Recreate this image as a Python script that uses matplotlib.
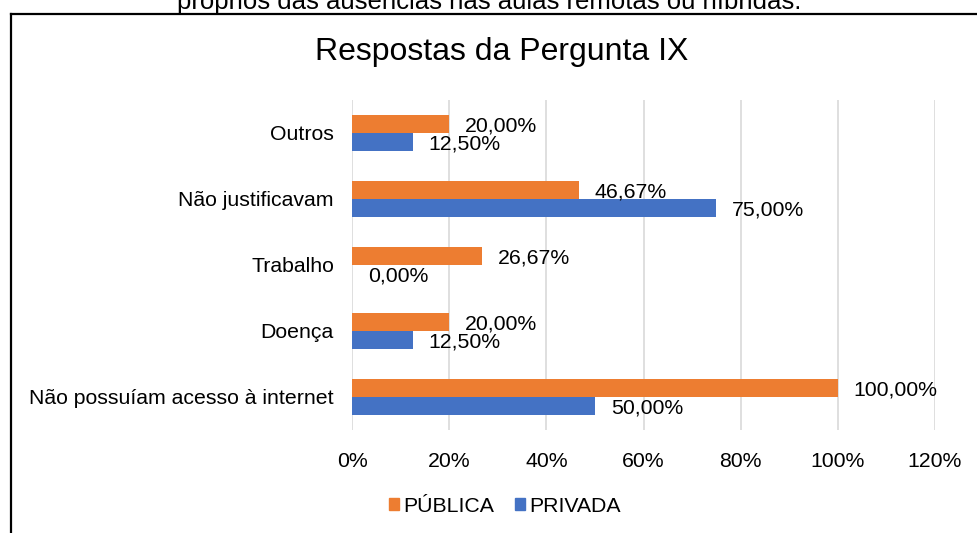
import matplotlib.pyplot as plt
import numpy as np
from matplotlib.patches import Patch
from matplotlib.lines import Line2D

plt.rcParams['font.family'] = ['Liberation Sans', 'DejaVu Sans']

# Data (bottom to top as drawn)
categories = ['Não possuíam acesso à internet', 'Doença', 'Trabalho',
              'Não justificavam', 'Outros']
publica = [100.00, 20.00, 26.67, 46.67, 20.00]
privada = [50.00, 12.50, 0.00, 75.00, 12.50]
xticks = [0, 20, 40, 60, 80, 100, 120]

ORANGE = '#ED7D31'
BLUE = '#4472C4'
FS = 15.3

fig = plt.figure(figsize=(9.78, 5.33), dpi=100)
ax = fig.add_axes([352 / 978, 1 - 430 / 533, (935 - 352) / 978, 330 / 533])

y = np.arange(len(categories))
h = 0.275
ax.barh(y + h / 2, publica, height=h, color=ORANGE, zorder=3)
ax.barh(y - h / 2, privada, height=h, color=BLUE, zorder=3)


def fmt(v):
    return f'{v:.2f}%'.replace('.', ',')


for yi, v in zip(y, publica):
    ax.annotate(fmt(v), (v, yi + h / 2), xytext=(11.5, -1.5), textcoords='offset points',
                ha='left', va='center', fontsize=FS)
for yi, v in zip(y, privada):
    ax.annotate(fmt(v), (v, yi - h / 2), xytext=(11.5, -1.5), textcoords='offset points',
                ha='left', va='center', fontsize=FS)

ax.set_xlim(0, 120)
ax.set_ylim(-0.5, len(categories) - 0.5)
ax.set_xticks(xticks)
ax.set_xticklabels([f'{t}%' for t in xticks], fontsize=FS)
ax.set_yticks(y)
ax.set_yticklabels(categories, fontsize=FS)
ax.tick_params(axis='y', length=0, pad=13)
ax.tick_params(axis='x', length=0, pad=16)
ax.xaxis.grid(True, color='#d9d9d9', linewidth=1.2, zorder=0)
for s in ax.spines.values():
    s.set_visible(False)

fig.text(502 / 978, 1 - 52 / 533, 'Respostas da Pergunta IX', ha='center', va='center',
         fontsize=23)

# cut-off caption above the chart frame
fig.text(489 / 978, 1 - 9 / 533, 'próprios das ausências nas aulas remotas ou híbridas.',
         ha='center', va='baseline', fontsize=18.5)

# chart frame (only left and top edges visible)
x0 = 10.5 / 978
y0 = 1 - 13.5 / 533
fig.add_artist(Line2D([x0, x0], [0, y0], color='black', linewidth=1.6))
fig.add_artist(Line2D([x0, 1], [y0, y0], color='black', linewidth=1.6))

handles = [Patch(color=ORANGE, label='PÚBLICA'), Patch(color=BLUE, label='PRIVADA')]
fig.legend(handles=handles, loc='center', bbox_to_anchor=(505 / 978, 1 - 506 / 533),
           ncol=2, frameon=False, fontsize=FS, handlelength=0.45, handleheight=0.45,
           handletextpad=0.2, columnspacing=1.0)

fig.savefig('out.png', dpi=100)
